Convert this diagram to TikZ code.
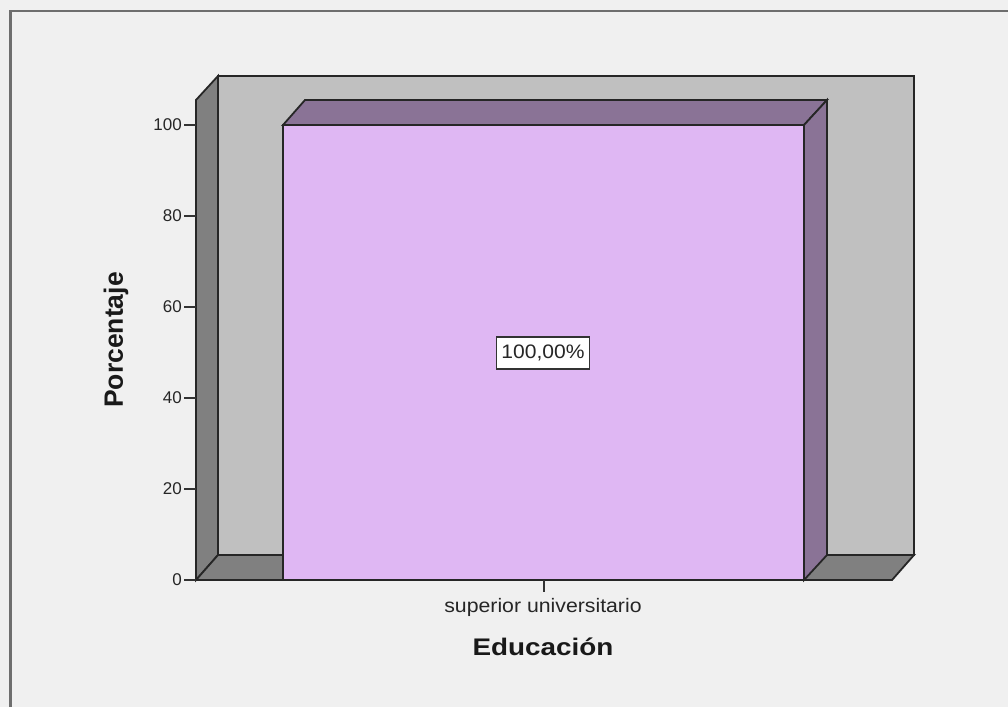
\documentclass[tikz,border=0pt]{standalone}
\usepackage{fontspec}
\setmainfont{Liberation Sans}
\definecolor{bgc}{HTML}{F0F0F0}
\definecolor{wallc}{HTML}{C0C0C0}
\definecolor{sidec}{HTML}{808080}
\definecolor{barfront}{HTML}{DFB7F3}
\definecolor{bardark}{HTML}{8A7396}
\definecolor{framec}{HTML}{6E6E6E}
\tikzset{
  edge3d/.style={draw=black!85, line width=1.8pt, line join=miter},
  tickline/.style={draw=black!80, line width=1.4pt},
  ticklabel/.style={anchor=east, inner sep=0pt, font=\fontsize{17}{17}\selectfont, text=black!85},
  catlabel/.style={inner sep=0pt, font=\fontsize{19.5}{20}\selectfont, xscale=1.09, text=black!85},
  axtitle/.style={inner sep=0pt, font=\fontsize{24}{24}\bfseries\selectfont, text=black!90},
  valbox/.style={draw=black!80, line width=1.4pt, fill=white, minimum width=93pt, minimum height=32pt, inner sep=0pt}
}
\begin{document}
\begin{tikzpicture}[x=1pt,y=-1pt]
\useasboundingbox (0,0) rectangle (1008,707);
\fill[bgc] (0,0) rectangle (1008,707);
% frame
\draw[framec, line width=2.5pt] (10.5,707) -- (10.5,11) -- (1008,11);
% back wall
\path[edge3d, fill=wallc] (218,76) rectangle (914,555);
% left side wall
\path[edge3d, fill=sidec] (196,580) -- (196,100) -- (218,76) -- (218,555) -- cycle;
% floor
\path[edge3d, fill=sidec] (196,580) -- (218,555) -- (914,555) -- (892,580) -- cycle;
% bar
\path[edge3d, fill=bardark] (283,125) -- (305,100) -- (827,100) -- (804,125) -- cycle;
\path[edge3d, fill=bardark] (804,125) -- (827,100) -- (827,555) -- (804,580) -- cycle;
\path[edge3d, fill=barfront] (283,125) rectangle (804,580);
% y ticks
\foreach \v/\yy in {0/580,20/489,40/398,60/307,80/216,100/125}{
  \draw[tickline] (184,\yy) -- (196,\yy);
  \node[ticklabel] (yl\v) at (182,\yy) {\v};
}
% x tick
\draw[tickline] (544,580) -- (544,592);
\node[catlabel] (cat) at (543,607) {superior universitario};
\node[axtitle, xscale=1.16] (xtitle) at (543,647) {Educación};
\node[axtitle, font=\fontsize{26.5}{26.5}\bfseries\selectfont, rotate=90] (ytitle) at (116,340) {Porcentaje};
% value label
\node[valbox] (val) at (543,353) {};
\node[catlabel, xscale=0.99] (valtext) at (val.center) {100,00\%};
\end{tikzpicture}
\end{document}
